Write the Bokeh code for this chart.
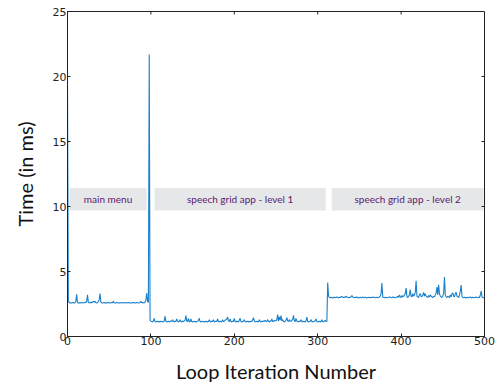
import math
from bokeh.plotting import figure
from bokeh.models import Range1d, FixedTicker, ColumnDataSource
from bokeh.core.properties import value
from bokeh.embed import file_html
from bokeh.resources import INLINE

# ---- data (loop iteration -> time in ms) ----
main_menu = [
    19.3, 2.75, 2.62, 2.58, 2.60, 2.57, 2.60, 2.62, 2.58, 2.60,
    2.70, 3.25, 2.62, 2.58, 2.60, 2.57, 2.60, 2.62, 2.60, 2.58,
    2.60, 2.63, 2.60, 2.70, 3.20, 2.62, 2.60, 2.58, 2.65, 2.60,
    2.62, 2.70, 2.65, 2.72, 2.60, 2.58, 2.62, 2.68, 2.85, 3.30,
    2.65, 2.60, 2.58, 2.60, 2.62, 2.58, 2.60, 2.57, 2.60, 2.62,
    2.60, 2.58, 2.60, 2.62, 2.60, 2.72, 2.60, 2.58, 2.60, 2.62,
    2.60, 2.58, 2.60, 2.57, 2.60, 2.62, 2.60, 2.58, 2.60, 2.62,
    2.60, 2.58, 2.60, 2.62, 2.60, 2.58, 2.60, 2.57, 2.60, 2.62,
    2.60, 2.58, 2.60, 2.62, 2.60, 2.58, 2.60, 2.62, 2.70, 2.60,
    2.62, 2.60, 2.58, 2.65, 2.80, 3.35, 2.70, 2.62,
]
transition_spike = [21.7]
level_1 = [
    1.25,
    1.18, 1.15, 1.12, 1.20, 1.40, 1.15, 1.12, 1.15, 1.18, 1.12,
    1.15, 1.12, 1.18, 1.15, 1.12, 1.15, 1.20, 1.56, 1.15, 1.12,
    1.15, 1.18, 1.12, 1.15, 1.20, 1.15, 1.30, 1.15, 1.12, 1.18,
    1.15, 1.35, 1.18, 1.12, 1.15, 1.30, 1.15, 1.12, 1.18, 1.15,
    1.20, 1.25, 1.61, 1.18, 1.15, 1.40, 1.15, 1.12, 1.35, 1.15,
    1.12, 1.15, 1.18, 1.12, 1.15, 1.12, 1.18, 1.25, 1.40, 1.15,
    1.12, 1.15, 1.18, 1.12, 1.15, 1.12, 1.18, 1.15, 1.12, 1.15,
    1.30, 1.15, 1.12, 1.18, 1.15, 1.30, 1.12, 1.15, 1.18, 1.15,
    1.35, 1.15, 1.12, 1.18, 1.15, 1.12, 1.30, 1.15, 1.18, 1.25,
    1.30, 1.35, 1.50, 1.20, 1.15, 1.35, 1.15, 1.12, 1.18, 1.15,
    1.40, 1.15, 1.12, 1.18, 1.15, 1.12, 1.25, 1.40, 1.15, 1.12,
    1.15, 1.18, 1.30, 1.15, 1.12, 1.15, 1.18, 1.12, 1.15, 1.12,
    1.18, 1.15, 1.25, 1.45, 1.20, 1.15, 1.12, 1.18, 1.15, 1.12,
    1.30, 1.15, 1.12, 1.18, 1.15, 1.20, 1.15, 1.25, 1.15, 1.18,
    1.30, 1.15, 1.12, 1.20, 1.18, 1.35, 1.15, 1.20, 1.18, 1.25,
    1.20, 1.30, 1.68, 1.20, 1.50, 1.25, 1.60, 1.20, 1.30, 1.15,
    1.12, 1.18, 1.25, 1.45, 1.20, 1.15, 1.30, 1.18, 1.15, 1.25,
    1.30, 1.62, 1.20, 1.15, 1.40, 1.18, 1.15, 1.12, 1.18, 1.15,
    1.30, 1.15, 1.12, 1.18, 1.15, 1.12, 1.20, 1.50, 1.15, 1.12,
    1.15, 1.18, 1.30, 1.15, 1.12, 1.15, 1.18, 1.20, 1.35, 1.15,
    1.12, 1.15, 1.18, 1.12, 1.15, 1.30, 1.12, 1.15, 1.18, 1.25,
    1.15, 1.18,
]
level_2 = [
    4.15,
    3.10, 3.00, 2.98, 3.02, 3.00, 2.97, 3.00,
    3.02, 2.98, 3.00, 3.05, 3.00, 2.97, 3.02, 3.00, 3.05, 3.08,
    3.02, 3.00, 3.05, 3.00, 3.10, 3.05, 3.00, 2.98, 3.02, 3.00,
    3.05, 3.15, 3.05, 3.00, 2.98, 3.02, 3.00, 3.05, 3.00, 2.97,
    3.00, 3.02, 2.98, 3.00, 3.05, 3.00, 2.98, 3.02, 3.00, 2.97,
    3.00, 3.02, 2.98, 3.00, 3.02, 2.98, 3.00, 3.05, 3.00, 2.98,
    3.00, 3.02, 2.98, 3.00, 3.05, 3.10, 3.30, 4.11, 3.05, 3.00,
    2.98, 3.02, 3.00, 2.98, 3.00, 3.02, 3.05, 3.00, 2.98, 3.00,
    3.05, 3.00, 3.02, 2.98, 3.00, 3.05, 3.10, 3.00, 3.20, 3.05,
    3.00, 3.15, 3.05, 3.10, 3.20, 3.30, 3.73, 3.05, 3.00, 3.10,
    3.20, 3.60, 3.10, 3.05, 3.30, 3.10, 3.20, 3.40, 4.29, 3.10,
    3.05, 3.00, 3.20, 3.30, 3.10, 3.05, 3.20, 3.40, 3.10, 3.30,
    3.10, 3.05, 3.00, 3.15, 3.05, 3.20, 3.10, 3.05, 3.00, 3.10,
    3.05, 3.20, 3.35, 3.80, 3.20, 3.98, 3.30, 3.10, 3.05, 3.00,
    3.10, 3.30, 4.58, 3.20, 3.05, 3.00, 3.10, 3.05, 3.00, 3.20,
    3.05, 3.30, 3.35, 3.10, 3.05, 3.30, 3.40, 3.10, 3.05, 3.00,
    3.20, 3.50, 3.95, 3.10, 3.00, 2.98, 3.02, 3.00, 2.97, 3.00,
    3.02, 2.98, 3.00, 3.05, 3.00, 2.97, 3.02, 3.00, 2.98, 3.00,
    3.05, 3.00, 2.98, 3.02, 3.00, 3.20, 3.50, 3.05, 3.00, 2.98,
    3.00,
]
times = main_menu + transition_spike + level_1 + level_2
iterations = list(range(len(times)))

x_ticks = [0, 100, 200, 300, 400, 500]
y_ticks = [0, 5, 10, 15, 20, 25]
x_max = 500
y_max = 25

phase_labels = ["main menu", "speech grid app - level 1", "speech grid app - level 2"]
phase_left = [2.4, 104.4, 316.8]
phase_right = [94.8, 309.6, 499.0]
phase_bottom = [9.7, 9.7, 9.7]
phase_top = [11.43, 11.43, 11.43]

# ---- figure ----
AXIS_COLOR = "#222222"
p = figure(width=496, height=385, output_backend="svg", toolbar_location=None,
           x_range=Range1d(0, x_max), y_range=Range1d(0, y_max),
           min_border_left=67, min_border_right=12, min_border_top=11,
           min_border_bottom=0)
p.background_fill_color = "white"
p.border_fill_color = "white"
p.outline_line_color = AXIS_COLOR
p.xgrid.visible = False
p.ygrid.visible = False

phase_src = ColumnDataSource(dict(
    left=phase_left, right=phase_right, bottom=phase_bottom, top=phase_top,
    label=phase_labels,
    cx=[(a + b) / 2 for a, b in zip(phase_left, phase_right)],
    cy=[(a + b) / 2 for a, b in zip(phase_bottom, phase_top)],
))
p.quad(left="left", right="right", bottom="bottom", top="top", source=phase_src,
       fill_color="#e6e7e9", line_color=None)
p.text(x="cx", y="cy", text="label", source=phase_src,
       text_font=value("Lato"), text_font_size="10px", text_color="#5a1a6e",
       text_align="center", text_baseline="middle")

p.line(iterations, times, line_color="#1a80cc", line_width=1.1)

# inward ticks on the top and right edges of the box
p.ray(x=x_ticks, y=[y_max] * len(x_ticks), length=3, length_units="screen",
      angle=-math.pi / 2, line_color=AXIS_COLOR, line_width=1)
p.ray(x=[x_max] * len(y_ticks), y=y_ticks, length=3, length_units="screen",
      angle=math.pi, line_color=AXIS_COLOR, line_width=1)

xax = p.below[0]
yax = p.left[0]
xax.ticker = FixedTicker(ticks=x_ticks)
yax.ticker = FixedTicker(ticks=y_ticks)

for ax in (xax, yax):
    ax.axis_line_color = AXIS_COLOR
    ax.major_tick_line_color = AXIS_COLOR
    ax.major_tick_in = 3
    ax.major_tick_out = 0
    ax.minor_tick_line_color = None
    ax.major_label_text_font = "DejaVu Sans"
    ax.major_label_text_font_size = "11px"
    ax.major_label_text_color = "#222222"
    ax.axis_label_text_font = "Lato"
    ax.axis_label_text_font_size = "20px"
    ax.axis_label_text_font_style = "normal"
    ax.axis_label_text_color = "#111111"

xax.axis_label = "Loop Iteration Number"
yax.axis_label = "Time (in ms)"
xax.major_label_standoff = 0
xax.axis_label_standoff = 11
yax.major_label_standoff = 1
yax.axis_label_standoff = 13

open("out.html", "w").write(file_html(p, INLINE))
